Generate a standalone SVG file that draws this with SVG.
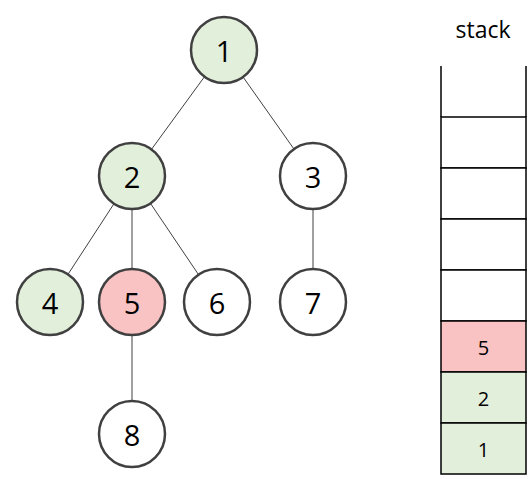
<svg xmlns="http://www.w3.org/2000/svg" width="532" height="479" viewBox="0 0 532 479">
<style>
.n{stroke:#404040;stroke-width:2.5;fill:#fff}
.c{stroke:#000;stroke-width:1.5;fill:#fff}
.g{fill:#E2EFDA}
.p{fill:#FAC3C3}
.t{font-family:"Open Sans","Liberation Sans",sans-serif;font-size:29px;fill:#000;text-anchor:middle;dominant-baseline:central}
.s{font-family:"Open Sans","Liberation Sans",sans-serif;font-size:20px;fill:#000;text-anchor:middle;dominant-baseline:central}
.e{stroke:#404040;stroke-width:1;fill:none}
</style>
<rect width="532" height="479" fill="#fff"/>
<g id="connectors">
<line class="e" x1="224" y1="50" x2="132" y2="176"/>
<line class="e" x1="224" y1="50" x2="313" y2="176"/>
<line class="e" x1="132" y1="176" x2="50" y2="302"/>
<line class="e" x1="132" y1="176" x2="132" y2="302"/>
<line class="e" x1="132" y1="176" x2="217" y2="302"/>
<line class="e" x1="313" y1="176" x2="313" y2="302"/>
<line class="e" x1="132" y1="302" x2="132" y2="434"/>
</g>
<g id="node1"><circle class="n g" cx="224" cy="50" r="33"/><text class="t" x="224" y="50">1</text></g>
<g id="node2"><circle class="n g" cx="132" cy="176" r="33"/><text class="t" x="132" y="176">2</text></g>
<g id="node3"><circle class="n" cx="313" cy="176" r="33"/><text class="t" x="313" y="176">3</text></g>
<g id="node4"><circle class="n g" cx="50" cy="302" r="33"/><text class="t" x="50" y="302">4</text></g>
<g id="node5"><circle class="n p" cx="132" cy="302" r="33"/><text class="t" x="132" y="302">5</text></g>
<g id="node6"><circle class="n" cx="217" cy="302" r="33"/><text class="t" x="217" y="302">6</text></g>
<g id="node7"><circle class="n" cx="313" cy="302" r="33"/><text class="t" x="313" y="302">7</text></g>
<g id="node8"><circle class="n" cx="132" cy="434" r="33"/><text class="t" x="132" y="434">8</text></g>
<g id="stack">
<text x="483" y="29" font-family="Open Sans, Liberation Sans, sans-serif" font-size="23" text-anchor="middle" dominant-baseline="central">stack</text>
<rect class="c" x="441" y="117" width="85" height="51"/>
<rect class="c" x="441" y="168" width="85" height="51"/>
<rect class="c" x="441" y="219" width="85" height="51"/>
<rect class="c" x="441" y="270" width="85" height="51"/>
<rect class="c p" x="441" y="321" width="85" height="51"/>
<rect class="c g" x="441" y="372" width="85" height="51"/>
<rect class="c g" x="441" y="423" width="85" height="51"/>
<line stroke="#000" stroke-width="1.5" x1="441" y1="66" x2="441" y2="117"/>
<line stroke="#000" stroke-width="1.5" x1="526" y1="66" x2="526" y2="117"/>
<text class="s" x="483.5" y="347">5</text>
<text class="s" x="483.5" y="398">2</text>
<text class="s" x="483.5" y="449">1</text>
</g>
</svg>
